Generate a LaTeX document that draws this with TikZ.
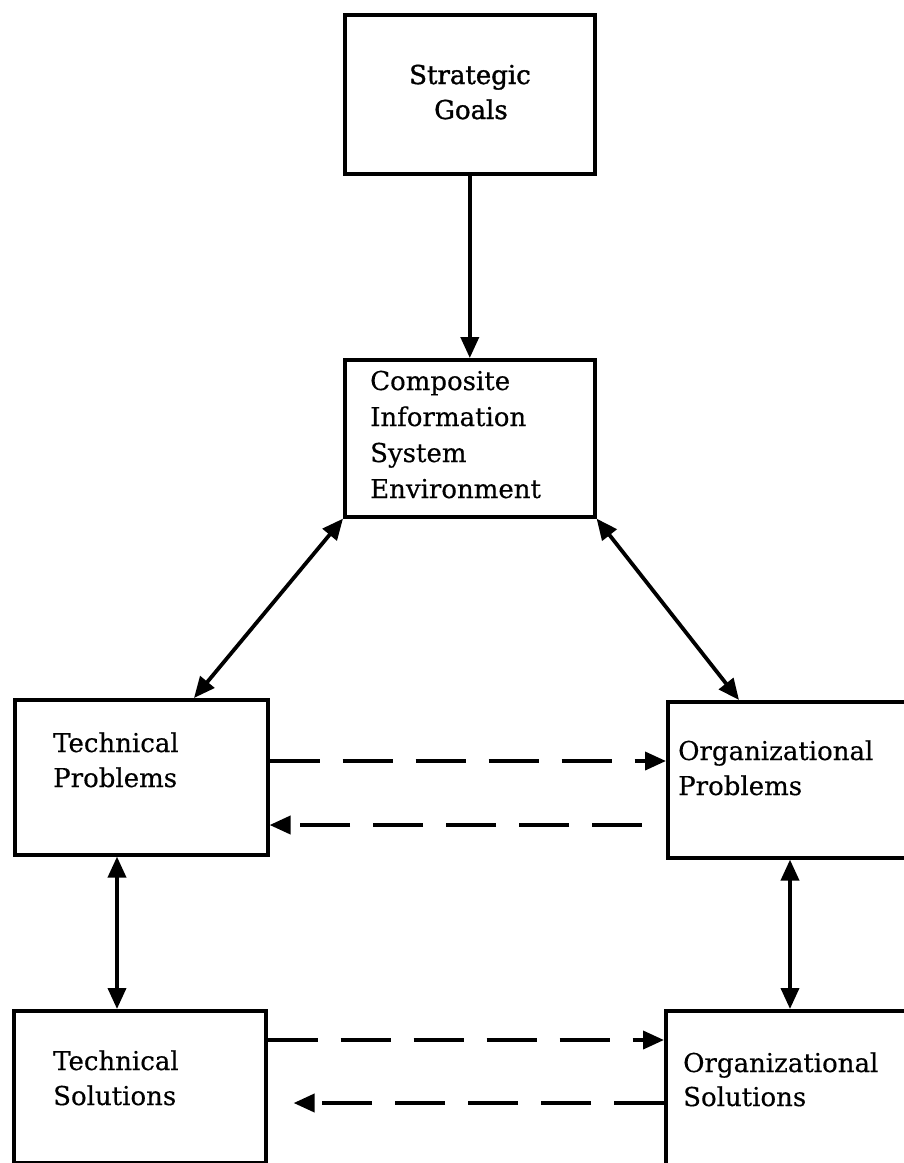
\documentclass[tikz,border=0pt]{standalone}
\usepackage{fontspec}
\setmainfont{DejaVu Serif}
\usetikzlibrary{arrows.meta}
\begin{document}
\begin{tikzpicture}[x=1pt,y=-1pt,
  box/.style={draw, line width=3.6pt, inner sep=0pt, anchor=north west},
  lbl/.style={font=\fontsize{26}{36}\selectfont\addfontfeatures{FakeBold=0.4},
    inner sep=0pt, anchor=base west},
  heavy/.style={font=\fontsize{26}{36}\selectfont\addfontfeatures{FakeBold=1.3}},
  link/.style={line width=3.8pt, >={Triangle[length=21pt,width=18pt]}},
  dashlink/.style={link, dash pattern=on 50pt off 23pt},
]
\useasboundingbox (0,0) rectangle (904,1163);
\fill[white] (0,0) rectangle (904,1163);
\clip (0,0) rectangle (904,1163);

% boxes
\node[box, minimum width=250pt, minimum height=159pt] (sg) at (343,13) {};
\node[box, minimum width=250pt, minimum height=157pt] (cise) at (343,358) {};
\node[box, minimum width=253pt, minimum height=155pt] (tp) at (13,698) {};
\node[box, minimum width=270pt, minimum height=156pt] (op) at (666,700) {};
\node[box, minimum width=252pt, minimum height=152pt] (ts) at (12,1009) {};
\node[box, minimum width=272pt, minimum height=180pt] (os) at (664,1009) {};

% labels
\node[lbl, heavy, anchor=base] (sg1) at (470,84) {Strategic};
\node[lbl, heavy, anchor=base] (sg2) at (471,119) {Goals};
\node[lbl] (cise1) at (370,390) {Composite};
\node[lbl] (cise2) at (370,426) {Information};
\node[lbl] (cise3) at (370,462) {System};
\node[lbl] (cise4) at (370,498) {Environment};
\node[lbl] (tp1) at (53,752) {Technical};
\node[lbl] (tp2) at (53,787) {Problems};
\node[lbl] (op1) at (678,760) {Organizational};
\node[lbl] (op2) at (678,795) {Problems};
\node[lbl] (ts1) at (53,1070) {Technical};
\node[lbl] (ts2) at (53,1105) {Solutions};
\node[lbl] (os1) at (683,1072) {Organizational};
\node[lbl] (os2) at (683,1106) {Solutions};

% connectors
\draw[link,->] (sg.south) -- (cise.north);
\draw[link,<->] (cise.south west) -- (tp.north -| 194,0);
\draw[link,<->] (cise.south east) -- (op.north -| 739,0);
\draw[link,<->] (tp.south -| 117,0) -- (ts.north -| 117,0);
\draw[link,<->] (op.south -| 790,0) -- (os.north -| 790,0);
\draw[dashlink,->] (tp.east |- 0,761) -- (op.west |- 0,761);
\draw[dashlink,->,shorten <=24pt] (op.west |- 0,825) -- (tp.east |- 0,825);
\draw[dashlink,->] (ts.east |- 0,1040) -- (os.west |- 0,1040);
\draw[dashlink,->,shorten >=26pt] (os.west |- 0,1103) -- (ts.east |- 0,1103);
\end{tikzpicture}
\end{document}
